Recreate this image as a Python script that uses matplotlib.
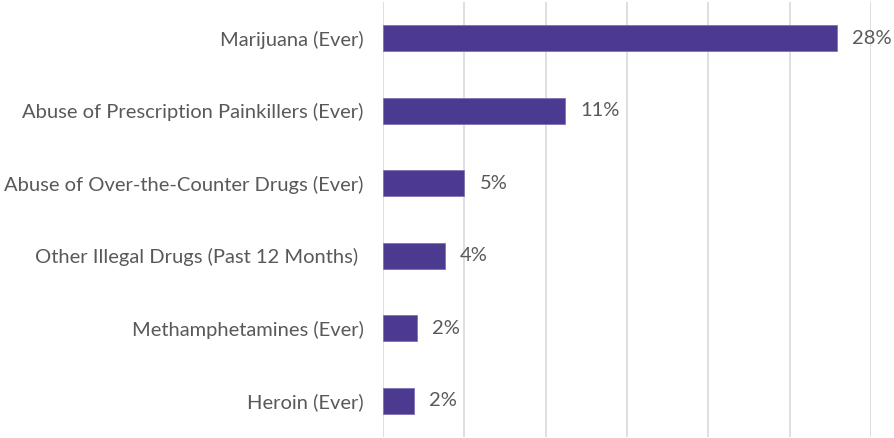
import matplotlib.pyplot as plt

# Survey results, listed top to bottom
categories = [
    'Marijuana (Ever)',
    'Abuse of Prescription Painkillers (Ever)',
    'Abuse of Over-the-Counter Drugs (Ever)',
    'Other Illegal Drugs (Past 12 Months) ',
    'Methamphetamines (Ever)',
    'Heroin (Ever)',
]
percent = [27.9, 11.2, 5.0, 3.8, 2.1, 1.9]

plt.rcParams['font.family'] = ['Lato', 'DejaVu Sans']
text_color = '#595959'
bar_color = '#4B3A8F'

fig = plt.figure(figsize=(8.94, 4.38), dpi=100)
ax = fig.add_axes([0.4284, 0.0016, 0.5459, 0.9945])

pos = list(range(len(categories)))
ax.barh(pos, percent, height=0.36, color=bar_color, edgecolor='#7F72B5',
        linewidth=0.6, zorder=3)

for y, v in zip(pos, percent):
    ax.annotate(f'{v:.0f}%', (v, y), xytext=(11, 0), textcoords='offset points',
                va='center', ha='left', fontsize=14.5, color=text_color)

ax.set_xlim(0, 30)
ax.set_ylim(len(categories) - 0.5, -0.5)
ax.set_xticks(range(0, 31, 5))
ax.set_yticks(pos)
ax.set_yticklabels(categories, fontsize=14.5, color=text_color)
ax.tick_params(axis='y', length=0, pad=14)
ax.tick_params(axis='x', length=0, labelbottom=False)
ax.grid(axis='x', color='#D9D9D9', linewidth=1.2, zorder=0)
for s in ax.spines.values():
    s.set_visible(False)

fig.savefig('out.png', dpi=100)
